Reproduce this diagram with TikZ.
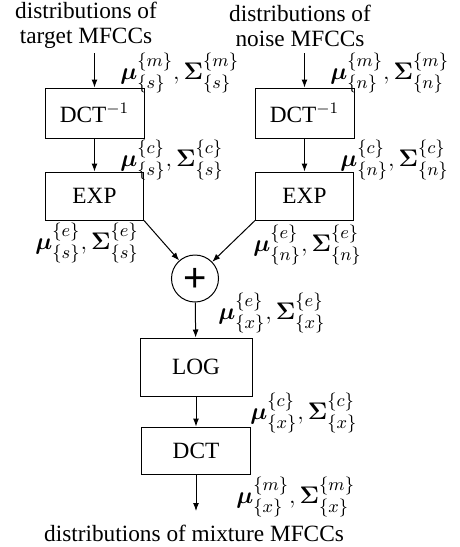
\documentclass[tikz,border=0pt]{standalone}
\usepackage{amsmath,bm}
\usepackage{fontspec}
\setmainfont{Liberation Serif}
\newfontfamily\plusfont{Liberation Sans}
\usetikzlibrary{arrows.meta}
\begin{document}
\begin{tikzpicture}[x=0.5pt,y=-0.5pt,
  font=\fontsize{11.65}{12.5}\selectfont,
  >={Latex[length=4pt,width=3pt]},
  blk/.style={draw,line width=0.5pt,inner sep=0pt},
  lbl/.style={anchor=west,inner sep=0pt,font=\fontsize{12.7}{13}\selectfont},
  conn/.style={->,line width=0.5pt}]
\useasboundingbox (0,0) rectangle (460,547);
\node[align=center,inner sep=0pt] (tl) at (86,25.5) {distributions of\\target MFCCs};
\node[align=center,inner sep=0pt] (tr) at (300,25.5) {distributions of\\noise MFCCs};
\node[blk,minimum width=49.5pt,minimum height=25pt] (d1) at (94.5,113) {DCT$^{-1}$};
\node[blk,minimum width=49.5pt,minimum height=25pt] (d2) at (304.5,113) {DCT$^{-1}$};
\node[blk,minimum width=49pt,minimum height=24pt] (e1) at (94.5,196) {EXP};
\node[blk,minimum width=49pt,minimum height=24pt] (e2) at (304.5,196) {EXP};
\node[blk,circle,minimum size=23.5pt] (p) at (195,278.5) {};
\node[inner sep=0pt] (pl) at (195,280) {\plusfont\fontsize{20}{20}\selectfont +};
\node[blk,minimum width=56pt,minimum height=29pt] (lg) at (196,367) {LOG};
\node[blk,minimum width=54.5pt,minimum height=23.5pt] (dc) at (196,450.5) {DCT};
\node[inner sep=0pt] (bt) at (194,533) {distributions of mixture MFCCs};
\coordinate (s1) at (94.5,53);
\coordinate (s2) at (304.5,53);
\coordinate (en) at (196,511);
\draw[conn] (s1) -- (d1);
\draw[conn] (s2) -- (d2);
\draw[conn] (d1) -- (e1);
\draw[conn] (d2) -- (e2);
\draw[conn] (e1.south east) -- (p);
\draw[conn] (e2.south west) -- (p);
\draw[conn] (p) -- (lg);
\draw[conn] (lg) -- (dc);
\draw[conn] (dc) -- (en);
\node[lbl] (lm) at (120,73) {$\bm{\mu}^{\{m\}}_{\{s\}},\bm{\Sigma}^{\{m\}}_{\{s\}}$};
\node[lbl] (rm) at (330,73) {$\bm{\mu}^{\{m\}}_{\{n\}},\bm{\Sigma}^{\{m\}}_{\{n\}}$};
\node[lbl] (lc) at (120,160) {$\bm{\mu}^{\{c\}}_{\{s\}},\bm{\Sigma}^{\{c\}}_{\{s\}}$};
\node[lbl] (rc) at (340,160) {$\bm{\mu}^{\{c\}}_{\{n\}},\bm{\Sigma}^{\{c\}}_{\{n\}}$};
\node[lbl] (le) at (35,243) {$\bm{\mu}^{\{e\}}_{\{s\}},\bm{\Sigma}^{\{e\}}_{\{s\}}$};
\node[lbl] (re) at (253,245) {$\bm{\mu}^{\{e\}}_{\{n\}},\bm{\Sigma}^{\{e\}}_{\{n\}}$};
\node[lbl] (xe) at (218,313) {$\bm{\mu}^{\{e\}}_{\{x\}},\bm{\Sigma}^{\{e\}}_{\{x\}}$};
\node[lbl] (xc) at (250,413) {$\bm{\mu}^{\{c\}}_{\{x\}},\bm{\Sigma}^{\{c\}}_{\{x\}}$};
\node[lbl] (xm) at (236,497) {$\bm{\mu}^{\{m\}}_{\{x\}},\bm{\Sigma}^{\{m\}}_{\{x\}}$};
\end{tikzpicture}
\end{document}
